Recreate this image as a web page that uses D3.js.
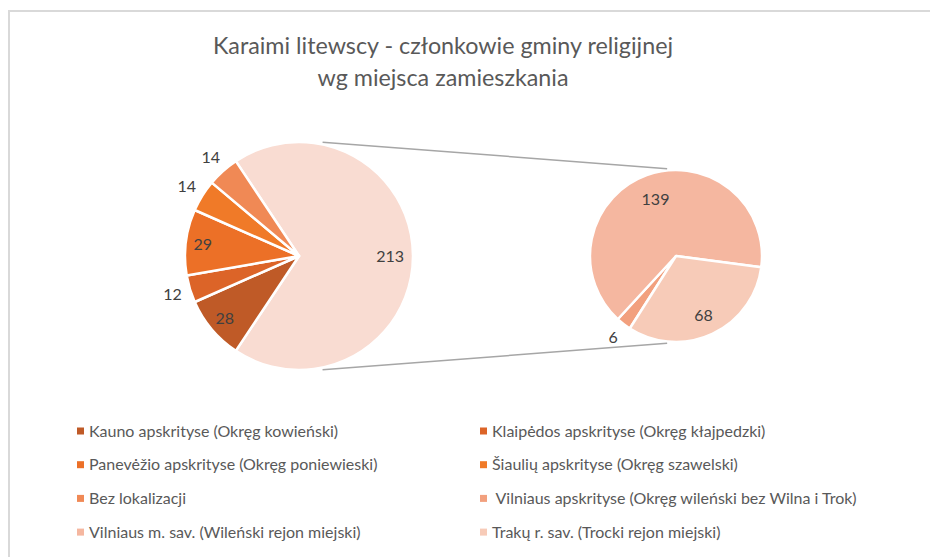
<!DOCTYPE html>
<html>
<head>
<meta charset="utf-8">
<script src="https://cdn.jsdelivr.net/npm/d3@7"></script>
<style>
  body { margin: 0; background: #fff; }
  svg { display: block; font-family: Lato, "Open Sans", sans-serif; }
</style>
</head>
<body>
<svg id="chart" width="930" height="557"></svg>
<script>
// first pie: regions + "other" (Vilnius area), second pie splits "other"
var mainNames = ['Kauno apskrityse (Okręg kowieński)', 'Klaipėdos apskrityse (Okręg kłajpedzki)',
  'Panevėžio apskrityse (Okręg poniewieski)', 'Šiaulių apskrityse (Okręg szawelski)', 'Bez lokalizacji'];
var mainValues = [28, 12, 29, 14, 14];
var subNames = [' Vilniaus apskrityse (Okręg wileński bez Wilna i Trok)',
  'Vilniaus m. sav. (Wileński rejon miejski)', 'Trakų r. sav. (Trocki rejon miejski)'];
var subValues = [6, 139, 68];
var mainColors = ['#bf5a27', '#dc6428', '#ec7027', '#f07a28', '#f08955'];
var subColors = ['#f2a07e', '#f5b7a0', '#f7cbb8'];
var otherColor = '#f9dcd2';
var titleLines = ['Karaimi litewscy - członkowie gminy religijnej', 'wg miejsca zamieszkania'];

var svg = d3.select('#chart');
var deg = Math.PI / 180;

svg.append('rect')
  .attr('x', 9).attr('y', 11)
  .attr('width', 960).attr('height', 600)
  .attr('fill', 'none')
  .attr('stroke', '#d9d9d9')
  .attr('stroke-width', 2);

svg.append('text')
  .attr('text-anchor', 'middle')
  .attr('fill', '#595959')
  .style('font-size', '23.3px')
  .selectAll('tspan')
  .data(titleLines)
  .enter().append('tspan')
    .attr('x', 443)
    .attr('y', function (d, i) { return 54 + i * 32; })
    .text(function (d) { return d; });

var subTotal = d3.sum(subValues);
var total = d3.sum(mainValues) + subTotal;

// left pie
var c1 = [299, 256], r1 = 114;
var otherAngle = subTotal / total * 2 * Math.PI;
var leftData = [{ v: subTotal, color: otherColor }].concat(mainValues.map(function (v, i) {
  return { v: v, color: mainColors[i] };
}));
var pie1 = d3.pie().sort(null).value(function (d) { return d.v; })
  .startAngle(Math.PI / 2 - otherAngle / 2)
  .endAngle(Math.PI / 2 - otherAngle / 2 + 2 * Math.PI);
var arc1 = d3.arc().innerRadius(0).outerRadius(r1);

var g1 = svg.append('g').attr('transform', 'translate(' + c1 + ')');
var arcs1 = pie1(leftData);
g1.selectAll('path')
  .data(arcs1)
  .enter().append('path')
    .attr('d', arc1)
    .attr('fill', function (d) { return d.data.color; })
    .attr('stroke', '#fff')
    .attr('stroke-width', 2.5)
    .attr('stroke-linejoin', 'round');

function labelPos(d, r) {
  var a = (d.startAngle + d.endAngle) / 2;
  return [Math.sin(a) * r, -Math.cos(a) * r];
}

g1.selectAll('text')
  .data(arcs1)
  .enter().append('text')
    .attr('transform', function (d) {
      var f = d.data.v > 20 ? (d.data.v > 100 ? 0.8 : 0.85) : 1.16;
      return 'translate(' + labelPos(d, r1 * f) + ')';
    })
    .attr('text-anchor', 'middle')
    .attr('dy', '0.35em')
    .attr('fill', '#404040')
    .style('font-size', '16px')
    .text(function (d) { return d.data.v; });

// right pie
var c2 = [676, 256], r2 = 86;
var pie2 = d3.pie().sort(null)
  .startAngle(212.5 * deg)
  .endAngle(212.5 * deg + 2 * Math.PI);
var arc2 = d3.arc().innerRadius(0).outerRadius(r2);
var arcs2 = pie2(subValues);

var g2 = svg.append('g').attr('transform', 'translate(' + c2 + ')');
g2.selectAll('path')
  .data(arcs2)
  .enter().append('path')
    .attr('d', arc2)
    .attr('fill', function (d, i) { return subColors[i]; })
    .attr('stroke', '#fff')
    .attr('stroke-width', 2.5)
    .attr('stroke-linejoin', 'round');

g2.selectAll('text')
  .data(arcs2)
  .enter().append('text')
    .attr('transform', function (d) {
      var f = d.value < 20 ? 1.2 : (d.value > 100 ? 0.7 : 0.76);
      return 'translate(' + labelPos(d, r2 * f) + ')';
    })
    .attr('text-anchor', 'middle')
    .attr('dy', '0.35em')
    .attr('fill', '#404040')
    .style('font-size', '16px')
    .text(function (d) { return d.value; });

// connector lines
var a1 = 11.7 * deg, a2 = -5.8 * deg;
[-1, 1].forEach(function (s) {
  svg.append('line')
    .attr('x1', c1[0] + Math.sin(a1) * r1 * 1.02)
    .attr('y1', c1[1] + s * Math.cos(a1) * r1 * 1.02)
    .attr('x2', c2[0] + Math.sin(a2) * r2 * 1.02)
    .attr('y2', c2[1] + s * Math.cos(a2) * r2 * 1.02)
    .attr('stroke', '#a6a6a6')
    .attr('stroke-width', 1.5);
});

// legend
var legendItems = mainNames.map(function (n, i) { return { name: n, color: mainColors[i] }; })
  .concat(subNames.map(function (n, i) { return { name: n, color: subColors[i] }; }));
var legend = svg.append('g').selectAll('g')
  .data(legendItems)
  .enter().append('g')
    .attr('transform', function (d, i) {
      return 'translate(' + (i % 2 ? 480 : 77) + ',' + (431 + Math.floor(i / 2) * 33.7) + ')';
    });
legend.append('rect')
  .attr('x', 0).attr('y', -3.5)
  .attr('width', 7).attr('height', 7)
  .attr('fill', function (d) { return d.color; });
legend.append('text')
  .attr('x', 12)
  .attr('dy', '0.35em')
  .attr('fill', '#595959')
  .style('font-size', '16px')
  .style('white-space', 'pre')
  .text(function (d) { return d.name; });
</script>
</body>
</html>
